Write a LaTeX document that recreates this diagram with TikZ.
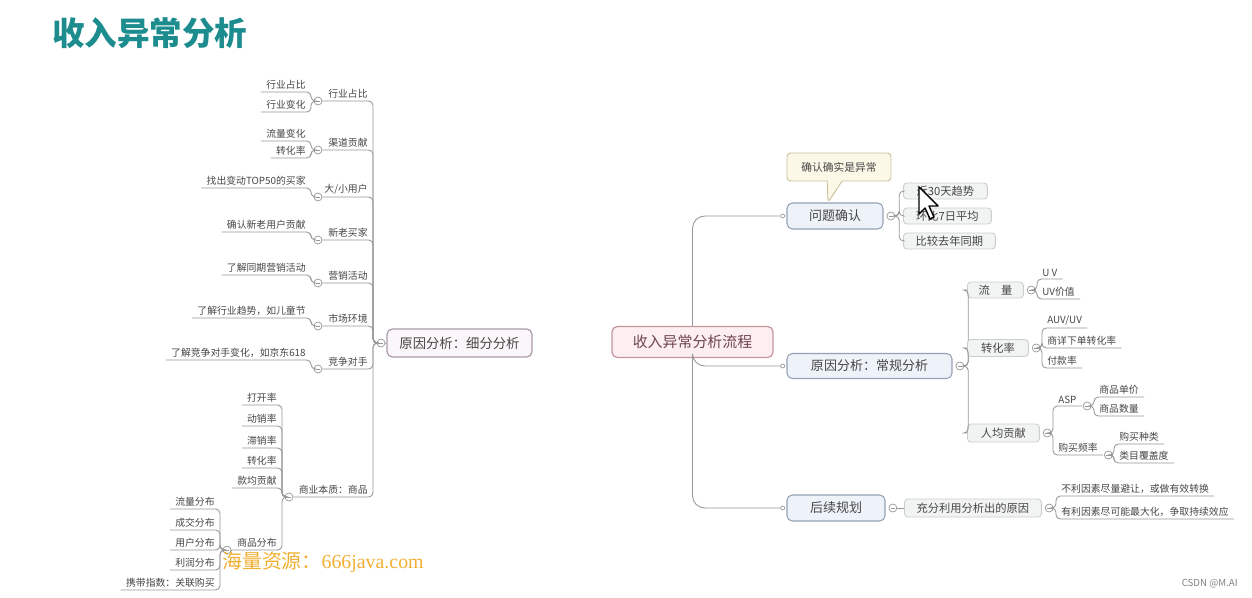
\documentclass[tikz,border=0pt]{standalone}
\usepackage{fontspec}
\setmainfont{Noto Sans CJK SC}
\newfontfamily\wmserif{Liberation Serif}
\usetikzlibrary{positioning,shapes.callouts}
\newcommand{\mmfont}[1]{\fontsize{#1pt}{#1pt}\selectfont}
\definecolor{mmline}{RGB}{150,150,150}
\definecolor{mmtext}{RGB}{70,70,70}
\definecolor{mmtitle}{RGB}{28,140,142}
\definecolor{mmroottext}{RGB}{110,70,78}
\definecolor{mmrootfill}{RGB}{253,238,241}
\definecolor{mmrootdraw}{RGB}{196,150,158}
\definecolor{mmsubfill}{RGB}{251,246,249}
\definecolor{mmsubdraw}{RGB}{170,155,168}
\definecolor{mmbluefill}{RGB}{238,242,249}
\definecolor{mmbluedraw}{RGB}{150,160,180}
\definecolor{mmleaffill}{RGB}{242,244,243}
\definecolor{mmleafdraw}{RGB}{200,206,204}
\definecolor{mmnotefill}{RGB}{251,248,232}
\definecolor{mmnotedraw}{RGB}{200,190,155}
\definecolor{mmwater}{RGB}{240,175,50}

\begin{document}
\begin{tikzpicture}[
    x=0.02cm, y=-0.02cm,
    conn/.style={draw=mmline, line width=0.5pt, rounded corners=2.5pt},
    lab/.style={font=\mmfont{5.6}, text=mmtext, inner xsep=0.1cm, inner ysep=0.05cm},
    fold/.style={circle, draw=mmline, fill=white, line width=0.4pt, minimum size=0.16cm, inner sep=0pt,
      path picture={\draw[mmline, line width=0.4pt] ([xshift=0.04cm]path picture bounding box.west)
        -- ([xshift=-0.04cm]path picture bounding box.east);}},
    dot/.style={circle, draw=mmline, fill=white, line width=0.4pt, minimum size=0.08cm, inner sep=0pt},
    mainroot/.style={draw=mmrootdraw, fill=mmrootfill, rounded corners=3pt, line width=0.7pt,
      minimum width=3.22cm, minimum height=0.62cm, font=\mmfont{8.5}, text=mmroottext},
    subroot/.style={draw=mmsubdraw, fill=mmsubfill, rounded corners=3pt, line width=0.7pt,
      minimum width=2.9cm, minimum height=0.56cm, font=\mmfont{7.6}, text=mmtext},
    bluebox/.style={draw=mmbluedraw, fill=mmbluefill, rounded corners=3pt, line width=0.6pt,
      font=\mmfont{7.4}, text=mmtext},
    leafbox/.style={draw=mmleafdraw, fill=mmleaffill, rounded corners=2pt, line width=0.5pt,
      minimum height=0.32cm, inner sep=0pt, font=\mmfont{6.4}, text=mmtext},
    note/.style={rectangle callout, draw=mmnotedraw, fill=mmnotefill, rounded corners=2pt, line width=0.5pt,
      minimum width=2.08cm, minimum height=0.56cm, callout pointer width=0.3cm,
      font=\mmfont{6.1}, text=mmtext},
  ]
  \useasboundingbox (0,0) rectangle (1252,598);

  %% ================= title =================
  \node[font=\mmfont{18.5}\bfseries, text=mmtitle, anchor=west, inner sep=0pt] (title) at (52,33) {收入异常分析};

  %% ================= left: detail analysis =================
  \node[subroot] (dtl) at (459.5,343) {原因分析：细分分析};
  \node[fold] (dtlf) at (381,343) {};
  \draw[conn] (dtlf) -- (dtl);

  \foreach \n/\y/\txt in {a/101/行业占比, b/150/渠道贡献, c/197/{大/小用户}, d/240/新老买家,
      e/283/营销活动, f/326/市场环境, g/369/竞争对手} {
    \node[lab, anchor=south east] (p\n) at (373,\y) {\txt};
    \node[fold] (p\n-f) at (318,\y) {};
    \draw[conn] (p\n-f.east) -- (p\n.south east) |- (dtlf.west);
  }

  \foreach \p/\y/\txt in {a/92/行业占比, a/112/行业变化, b/141/流量变化, b/158/转化率,
      c/188/找出变动TOP50的买家, d/232/确认新老用户贡献, e/275/了解同期营销活动,
      f/318/了解行业趋势，如儿童节, g/360/了解竞争对手变化，如京东618} {
    \node[lab, anchor=south east] (q\p\y) at (311,\y) {\txt};
    \draw[conn] (q\p\y.south west) -- (q\p\y.south east) |- (p\p-f.west);
  }

  % the goods branch, two levels deep
  \node[lab, anchor=south east] (ph) at (373,497) {商业本质：商品};
  \node[fold] (ph-f) at (289,497) {};
  \draw[conn] (ph-f.east) -- (ph.south east) |- (dtlf.west);

  \foreach \y/\txt in {405/打开率, 426/动销率, 448/滞销率, 468/转化率, 488/款均贡献, 550/商品分布} {
    \node[lab, anchor=south east] (qh\y) at (282,\y) {\txt};
    \draw[conn] (qh\y.south west) -- (qh\y.south east) |- (ph-f.west);
  }

  \node[fold] (sp-f) at (227,550) {};
  \draw[conn] (sp-f.east) -- (qh550.south west);
  \foreach \y/\txt in {509/流量分布, 530/成交分布, 550/用户分布, 570/利润分布, 590/携带指数：关联购买} {
    \node[lab, anchor=south east] (s\y) at (220,\y) {\txt};
    \draw[conn] (s\y.south west) -- (s\y.south east) |- (sp-f.west);
  }

  %% ================= right: the process =================
  \node[mainroot] (root) at (692.5,342) {收入异常分析流程};

  \node[bluebox, minimum width=1.92cm, minimum height=0.52cm] (q1) at (835,216) {问题确认};
  \node[bluebox, minimum width=3.3cm, minimum height=0.5cm] (q2) at (869.5,366) {原因分析：常规分析};
  \node[bluebox, minimum width=1.96cm, minimum height=0.52cm] (q3) at (836,508) {后续规划};
  \foreach \q in {1,2,3} {
    \node[dot, left=0.03cm of q\q] (q\q-d) {};
    \node[fold, right=0.06cm of q\q] (q\q-f) {};
  }
  \draw[conn, rounded corners=7pt] (root.north) |- (q1-d.west);
  \draw[conn, rounded corners=7pt] (root.south) |- (q2-d.west);
  \draw[conn, rounded corners=7pt] (root.south) |- (q3-d.west);

  \node[note, callout absolute pointer={([xshift=-0.14cm]q1.north)}] (nt) at (839,167) {确认确实是异常};

  % checks of the drop
  \foreach \y/\w/\txt/\n in {191/1.68/近30天趋势/1, 216/1.76/环比7日平均/2, 241/1.84/比较去年同期/3} {
    \node[leafbox, minimum width=\w cm, anchor=west] (q1c\n) at (903,\y) {\txt};
    \draw[conn] (q1-f.east) -- ++(0.08cm,0) |- (q1c\n.west);
  }

  % routine analysis
  \foreach \y/\w/\h/\txt/\n in {290/1.12/0.32/流　量/1, 348/1.22/0.34/转化率/2, 433/1.44/0.36/人均贡献/3} {
    \node[leafbox, minimum width=\w cm, minimum height=\h cm, anchor=west] (q2c\n) at (967,\y) {\txt};
    \node[fold, right=0.06cm of q2c\n] (q2c\n-f) {};
    \draw[conn] (q2-f.east) -- ++(0.08cm,0) |- (q2c\n.west);
  }

  \foreach \p/\x/\y/\txt in {1/1037/279/U V, 1/1037/299/UV价值, 2/1042/328/{AUV/UV},
      2/1042/348/商详下单转化率, 2/1042/368/付款率, 3/1053/406/ASP, 3/1053/455/购买频率} {
    \node[lab, anchor=south west] (r\y) at (\x,\y) {\txt};
    \draw[conn] (q2c\p-f.east) -| (r\y.south west) -- (r\y.south east);
  }

  \node[fold, anchor=west] (asp-f) at ([xshift=0.02cm]r406.south east) {};
  \node[fold, anchor=west] (frq-f) at ([xshift=0.02cm]r455.south east) {};
  \foreach \f/\x/\y/\txt in {asp/1094/397/商品单价, asp/1094/416/商品数量,
      frq/1114/444/购买种类, frq/1114/463/类目覆盖度} {
    \node[lab, anchor=south west] (t\y) at (\x,\y) {\txt};
    \draw[conn] (\f-f.east) -| (t\y.south west) -- (t\y.south east);
  }

  % planning
  \node[leafbox, minimum width=2.74cm, minimum height=0.36cm, anchor=west] (q3c1) at (904,508) {充分利用分析出的原因};
  \node[fold, right=0.06cm of q3c1] (q3c1-f) {};
  \draw[conn] (q3-f.east) -- (q3c1.west);
  \foreach \y/\txt in {496/不利因素尽量避让，或做有效转换, 519/有利因素尽可能最大化，争取持续效应} {
    \node[lab, anchor=south west] (u\y) at (1056,\y) {\txt};
    \draw[conn] (q3c1-f.east) -| (u\y.south west) -- (u\y.south east);
  }

  %% ================= overlays of the screenshot =================
  \node[anchor=west, inner sep=0pt, text=mmwater, font=\mmfont{11.3}] (wm) at (222,562) {海量资源：\wmserif 666java.com};
  \node[anchor=east, inner sep=0pt, text=black!50, font=\mmfont{5.5}] (csdn) at (1238,584) {CSDN @M.AI};

  \draw[black, fill=white, line width=0.8pt, line join=round]
    (919,187) -- ++(0,27) -- ++(6,-6) -- ++(5,11) -- ++(4,-2) -- ++(-5,-11) -- ++(9,0) -- cycle;

\end{tikzpicture}
\end{document}
